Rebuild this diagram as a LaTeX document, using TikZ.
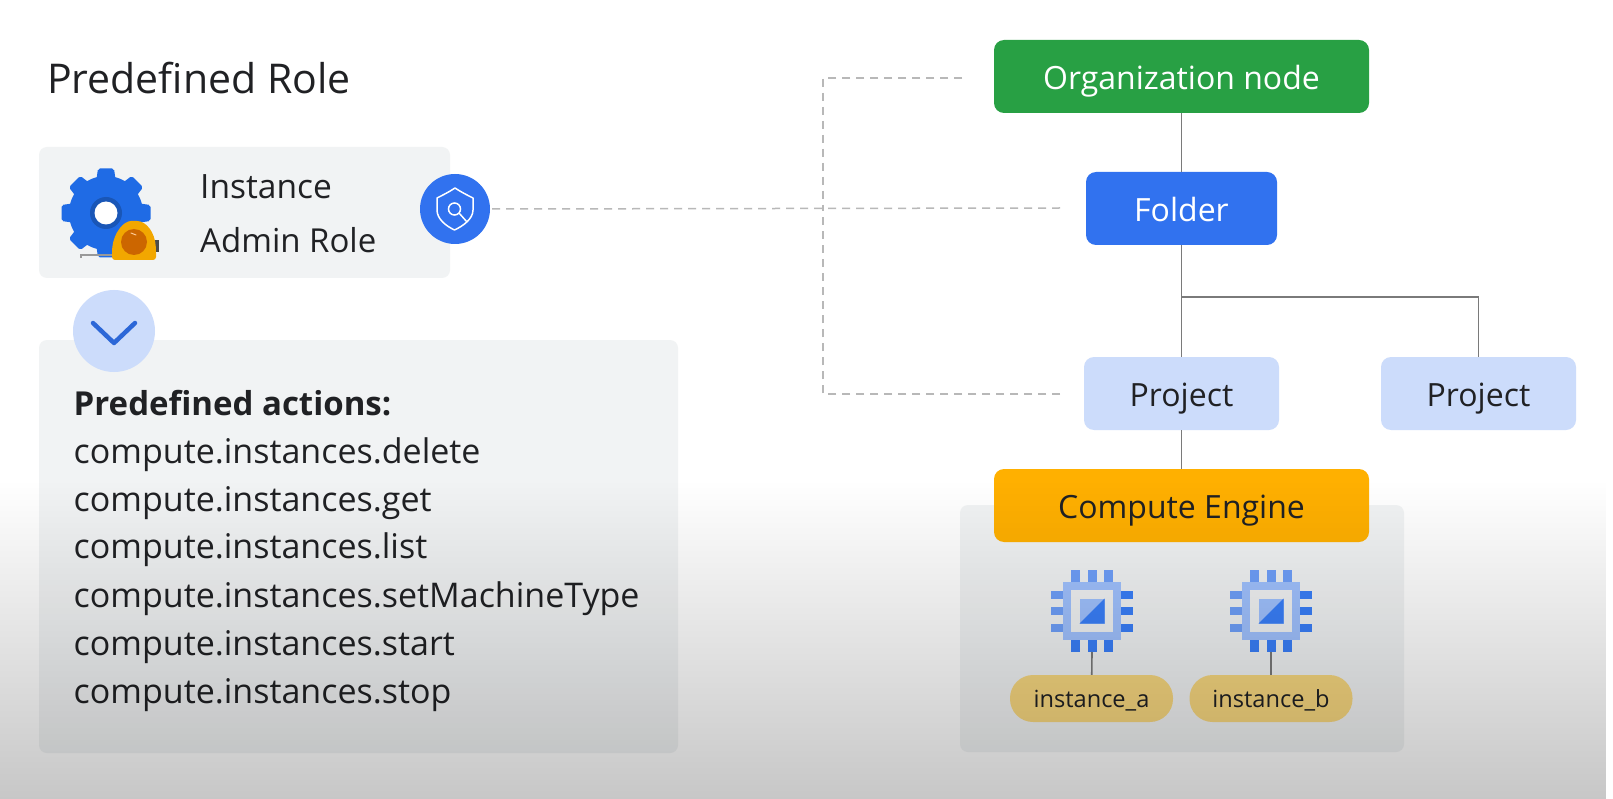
\documentclass[tikz,border=0pt]{standalone}
\usepackage{fontspec}
\usetikzlibrary{fadings}
\setmainfont{Open Sans}
\definecolor{ink}{HTML}{202124}
\definecolor{panel}{HTML}{F1F3F4}
\definecolor{gblue}{HTML}{3172EF}
\definecolor{gearblue}{HTML}{1F6BE5}
\definecolor{ggreen}{HTML}{28A044}
\definecolor{lblue}{HTML}{CCDCFB}
\definecolor{gold}{HTML}{FFB000}
\definecolor{pillc}{HTML}{F8D880}
\definecolor{chipmid}{HTML}{A0C2FF}
\definecolor{chiplight}{HTML}{6FA0FA}
\definecolor{chipdark}{HTML}{3A80FA}
\newcommand{\lowbox}[1]{\raisebox{-4.7pt}{#1}}
\newcommand{\lowpill}[1]{\raisebox{-3pt}{#1}}
\tikzfading[name=bottomfade, top color=transparent!100, middle color=transparent!87, bottom color=transparent!78]
\tikzset{
  box/.style={rounded corners=10pt, inner sep=0pt, text height=23pt, text depth=7pt, font=\fontsize{32}{38}\selectfont},
  panelbox/.style={fill=panel, rounded corners=8pt},
  tree/.style={draw=black!52, line width=1.6pt},
  dashline/.style={draw=black!28, line width=1.5pt, dash pattern=on 8pt off 6pt},
  pill/.style={fill=pillc, rounded corners=23pt, minimum width=163pt, minimum height=47pt, inner sep=0pt, text height=17pt, text depth=6pt, text=ink, font=\fontsize{23.6}{28}\selectfont},
  lefttext/.style={anchor=base west, inner sep=0pt, text=ink, font=\fontsize{34}{40}\selectfont},
}
\newcommand{\chip}[3]{%
  \begin{scope}[shift={(#1,#2)}]
    \foreach \d in {-16.5,0,16.5}{
      \fill[chiplight] (\d-4.5,-41) rectangle (\d+4.5,-28);
      \fill[chipdark]  (\d-4.5,28) rectangle (\d+4.5,41);
      \fill[chiplight] (-41,\d-4) rectangle (-28,\d+4);
      \fill[chipdark]  (28,\d-4) rectangle (41,\d+4);
    }
    \fill[chipmid] (-29,-29) rectangle (29,29);
    \fill[panel] (-21,-21) rectangle (21,21);
    \fill[chipmid] (-12.5,-12.5) rectangle (12.5,12.5);
    \fill[chipdark] (-12.5,12.5) -- (12.5,-12.5) -- (12.5,12.5) -- cycle;
    \coordinate (#3) at (0,41);
  \end{scope}}
\begin{document}
\begin{tikzpicture}[x=1pt,y=-1pt]
\useasboundingbox (0,0) rectangle (1613,799);
\fill[white] (0,0) rectangle (1613,799);

% panels
\fill[panelbox] (39,147) rectangle (450,278);
\fill[panelbox] (39,340) rectangle (678,753);
\fill[panelbox] (960,505) rectangle (1404,752);

% title and left texts
\node[lefttext, font=\fontsize{41}{48}\selectfont] (title) at (47,94) {Predefined Role};
\node[lefttext, font=\fontsize{33.5}{40}\selectfont] (inst) at (200,198.5) {Instance};
\node[lefttext, font=\fontsize{33}{40}\selectfont] (admin) at (200,252.5) {Admin Role};
\node[lefttext, font=\fontsize{33}{38}\selectfont\bfseries] (act0) at (73.5,415) {Predefined actions:};
\node[lefttext] (act1) at (73.5,463) {compute.instances.delete};
\node[lefttext] (act2) at (73.5,511) {compute.instances.get};
\node[lefttext] (act3) at (73.5,558.5) {compute.instances.list};
\node[lefttext] (act4) at (73.5,607) {compute.instances.setMachineType};
\node[lefttext] (act5) at (73.5,655) {compute.instances.start};
\node[lefttext] (act6) at (73.5,703) {compute.instances.stop};

% gear icon
\foreach \a in {0,45,...,315}
  \fill[gearblue, rotate around={\a:(106,213)}, rounded corners=2pt] (95,190) -- (98,168.5) -- (114,168.5) -- (117,190) -- cycle;
\fill[gearblue] (106,213) circle (37);
\fill[gearblue!80!black] (106,213) circle (16);
\fill[white] (106,213) circle (11.5);
% tape measure
\draw[black!40, line width=1.5pt] (81,258) -- (81,255) -- (114,255);
\fill[black!70] (154,240) rectangle (159,252);
\fill[gold!95!black, rounded corners=3pt] (112,260) -- (112,250) .. controls (114,232) and (124,221) .. (134,221) .. controls (146,221) and (155,232) .. (156,250) -- (156,260) -- cycle;
\fill[orange!80!black] (134,242) circle (13);
\draw[orange!40, line width=1pt, line cap=round] (131,233) -- (136,235);

% right tree nodes
\node[box, fill=ggreen, text=white, minimum width=375pt, minimum height=73pt] (org) at (1181.5,76.5) {\lowbox{Organization node}};
\node[box, fill=gblue, text=white, minimum width=191pt, minimum height=73pt] (folder) at (1181.5,208.5) {\lowbox{Folder}};
\node[box, fill=lblue, text=ink, minimum width=195pt, minimum height=73pt] (proj1) at (1181.5,393.5) {\lowbox{Project}};
\node[box, fill=lblue, text=ink, minimum width=195pt, minimum height=73pt] (proj2) at (1478.5,393.5) {\lowbox{Project}};
\node[box, fill=gold, text=ink, minimum width=375pt, minimum height=73pt] (ce) at (1181.5,505.5) {\lowbox{Compute Engine}};
\coordinate (branch) at (1181.5,297);

\draw[tree] (org) -- (folder);
\draw[tree] (folder) -- (proj1);
\draw[tree] (branch) -| (proj2);
\draw[tree] (proj1) -- (ce);

% chips and pills
\chip{1092}{611}{chipa}
\chip{1271}{611}{chipb}
\node[pill] (insta) at (1091.5,698.5) {\lowpill{instance\_a}};
\node[pill] (instb) at (1271,698.5) {\lowpill{instance\_b}};
\draw[tree] (chipa) -- (insta);
\draw[tree] (chipb) -- (instb);

% shield and chevron circles
\node[circle, fill=gblue, minimum size=70pt, inner sep=0pt] (shield) at (455,209) {};
\draw[white, line width=1.5pt, line join=round] (455,188) .. controls (449,192) and (443,195) .. (437,198) -- (437,210) .. controls (437,219) and (446,226) .. (454.5,230) .. controls (463,226) and (473,219) .. (473,210) -- (473,198) .. controls (467,195) and (461,192) .. (455,188) -- cycle;
\draw[white, line width=1.5pt] (454.5,209) circle (6);
\draw[white, line width=1.5pt] (459,213) -- (467,222);
\node[circle, fill=lblue, minimum size=82pt, inner sep=0pt] (chev) at (114,331) {};
\draw[gblue!90!black, line width=4.5pt, line cap=round, line join=round] (93,323) -- (114,343) -- (135,323);

% dashed links
\coordinate (dashtop) at (962,78);
\coordinate (dashmid) at (1060,208);
\coordinate (dashbot) at (1060,394);
\coordinate (dashx) at (823,208);
\draw[dashline] (shield.east) ++(2,0) -- (dashmid);
\draw[dashline] (dashtop) -| (dashx);
\draw[dashline] (dashbot) -| (dashx);

% bottom darkening
\fill[black, path fading=bottomfade] (0,480) rectangle (1613,799);
\end{tikzpicture}
\end{document}
